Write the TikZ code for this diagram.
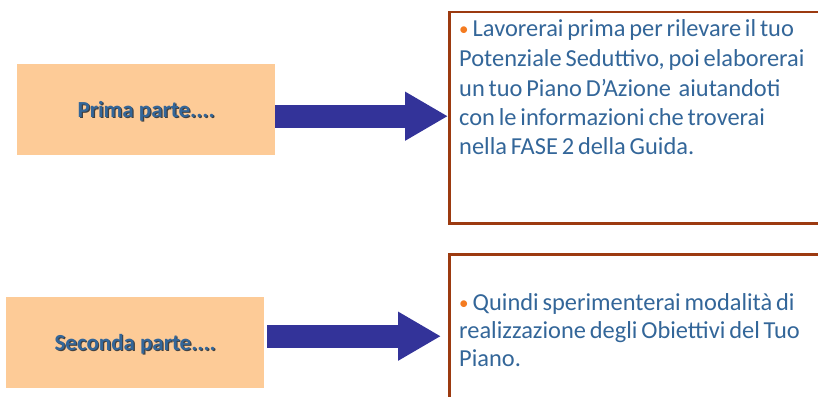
\documentclass[tikz,border=0pt]{standalone}
\usepackage{fontspec}
\setmainfont{Carlito}
\newfontfamily\infofam{Carlito}[WordSpace={0.7,0,0}]
\usetikzlibrary{arrows.meta}
\definecolor{peach}{HTML}{FDCB97}
\definecolor{arrowblue}{HTML}{333399}
\definecolor{framebrown}{HTML}{9C3A10}
\definecolor{txtblue}{HTML}{336699}
\definecolor{bulletorange}{HTML}{F47B20}
\protected\def\infofontA{\infofam\fontsize{24.4}{29.5}\selectfont}
\protected\def\infofontB{\infofam\fontsize{24.4}{28}\selectfont}
\tikzset{
  partbox/.style={fill=peach, draw=none, inner sep=0pt},
  infobox/.style={draw=framebrown, line width=2.5pt, fill=white, inner sep=0pt},
  bigarrow/.style={draw=arrowblue, line width=23pt, -{Triangle[length=43pt,width=46pt]}},
  infotext/.style={anchor=base west, inner sep=0pt, text width=360pt, align=flush left,
    text=txtblue},
  parttext/.style={inner sep=0pt, font=\bfseries\fontsize{23}{25}\selectfont}
}
\newcommand{\obul}{{\color{bulletorange}\fontsize{19}{19}\selectfont\raisebox{1pt}{•}}\,}
\newcommand{\shadowtext}[1]{\makebox[0pt][l]{\hspace{1.2pt}\raisebox{-1.2pt}{\textcolor{black!75}{#1}}}\textcolor{txtblue}{#1}}
\begin{document}
\begin{tikzpicture}[x=1pt,y=-1pt]
\useasboundingbox (0,0) rectangle (818,396);
% boxes
\node[partbox, minimum width=258pt, minimum height=91pt, anchor=north west] (p1) at (17,64) {};
\node[parttext] (p1t) at ([yshift=-2pt]p1.center) {\shadowtext{Prima parte....}};
\node[partbox, minimum width=258pt, minimum height=91pt, anchor=north west] (p2) at (6,297) {};
\node[parttext] (p2t) at ([yshift=-2pt]p2.center) {\shadowtext{Seconda parte....}};
\node[infobox, minimum width=400pt, minimum height=211pt, anchor=north west] (b1) at (448,11) {};
\node[infobox, minimum width=400pt, minimum height=170pt, anchor=north west] (b2) at (448,253) {};
% texts
\node[infotext, font=\infofontA] (t1) at (459,37) {\obul Lavorerai prima per rilevare il tuo\\
Potenziale Seduttivo, poi elaborerai\\
un tuo Piano D’Azione\ \ aiutandoti\\
con le informazioni che troverai\\
nella FASE 2 della Guida.};
\node[infotext, font=\infofontB] (t2) at (459,310) {\obul Quindi sperimenterai modalità di\\
realizzazione degli Obiettivi del Tuo\\
Piano.};
% arrows
\draw[bigarrow] ([yshift=-6.5pt]p1.east) -- ([yshift=-6.5pt]p1.east -| b1.west);
\draw[bigarrow, shorten <=3pt, shorten >=7pt] ([yshift=6.5pt]p2.east) -- ([yshift=6.5pt]p2.east -| b2.west);
\end{tikzpicture}
\end{document}
